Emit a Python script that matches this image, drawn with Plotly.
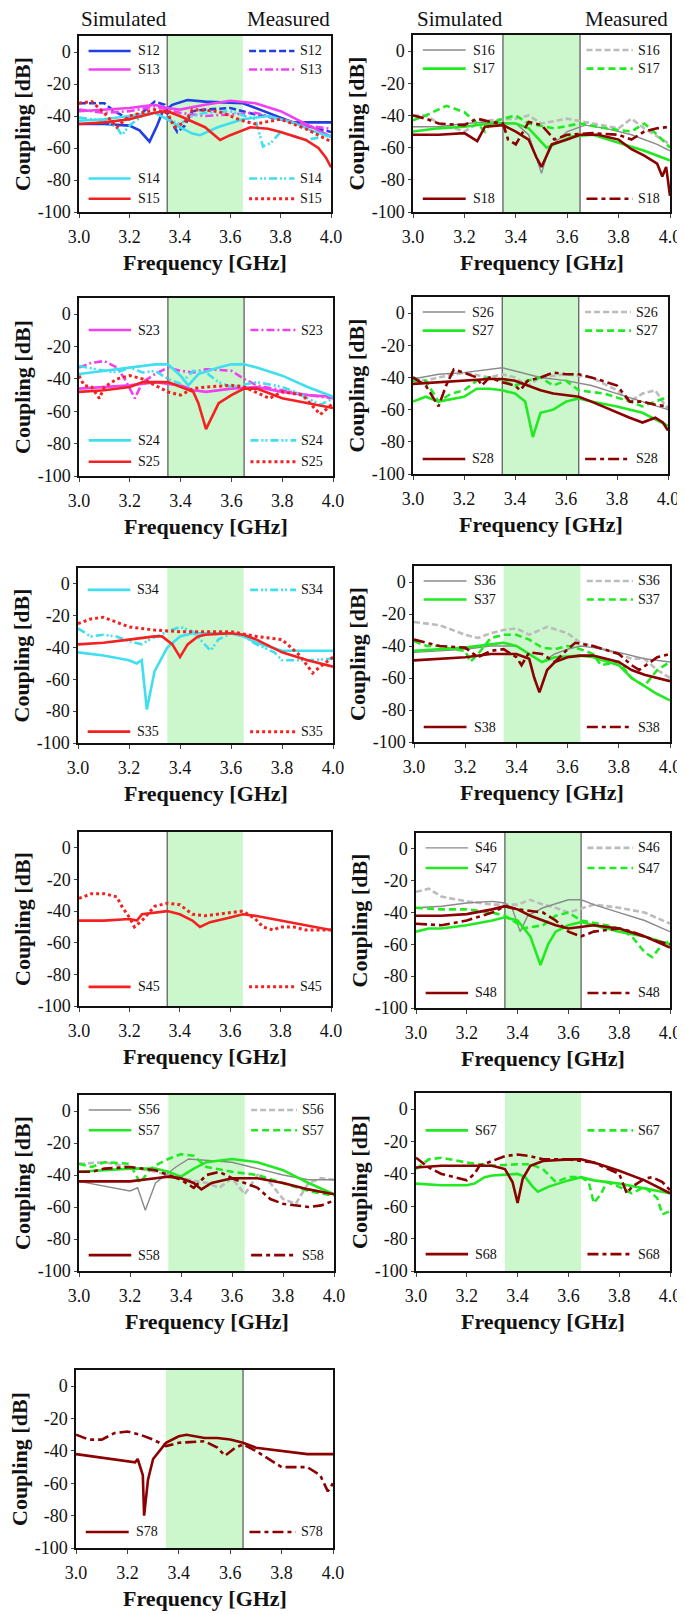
import plotly.graph_objects as go

# coupling curves: (frequency GHz, coupling dB)
S12_SIM = [(3.0,-45),(3.1,-45),(3.2,-46),(3.24,-49),(3.28,-56),(3.31,-46),(3.33,-38),(3.37,-33),(3.43,-30),(3.5,-31),(3.65,-32),(3.72,-36),(3.8,-41),(3.85,-44),(4.0,-44)]
S12_MEAS = [(3.0,-32),(3.1,-32),(3.14,-37),(3.2,-42),(3.25,-38),(3.3,-31),(3.34,-33),(3.36,-42),(3.39,-50),(3.42,-46),(3.45,-37),(3.5,-36),(3.6,-35),(3.7,-39),(3.8,-42),(3.9,-46),(4.0,-50)]
S13_SIM = [(3.0,-37),(3.1,-36),(3.2,-35),(3.3,-33),(3.35,-35),(3.4,-36),(3.5,-33),(3.6,-30.5),(3.7,-32),(3.8,-37),(3.9,-45),(4.0,-53)]
S13_MEAS = [(3.0,-36),(3.1,-38),(3.2,-37),(3.3,-34),(3.4,-38),(3.5,-40),(3.6,-39),(3.7,-38),(3.8,-42),(3.9,-46),(4.0,-48)]
S14_SIM = [(3.0,-43),(3.1,-42),(3.2,-40),(3.3,-38),(3.35,-42),(3.4,-47),(3.45,-51),(3.48,-52),(3.55,-47),(3.65,-42),(3.75,-40),(3.85,-44),(3.92,-49),(4.0,-53)]
S14_MEAS = [(3.0,-41),(3.1,-43),(3.15,-47),(3.17,-52),(3.2,-46),(3.25,-40),(3.3,-38),(3.35,-42),(3.4,-45),(3.45,-40),(3.5,-38),(3.6,-37),(3.7,-42),(3.73,-59),(3.76,-57),(3.8,-50),(3.9,-55),(4.0,-52)]
S15_SIM = [(3.0,-45),(3.1,-44),(3.2,-42),(3.3,-38),(3.35,-37),(3.4,-40),(3.5,-47),(3.56,-55),(3.6,-52),(3.68,-47),(3.75,-48),(3.8,-50),(3.9,-55),(3.95,-60),(3.98,-66),(4.0,-72)]
S15_MEAS = [(3.0,-32),(3.05,-31),(3.1,-38),(3.15,-47),(3.2,-40),(3.3,-36),(3.35,-38),(3.38,-47),(3.42,-44),(3.45,-36),(3.55,-37),(3.65,-43),(3.7,-45),(3.8,-42),(3.9,-48),(4.0,-56)]

S16_SIM = [(3.0,-47),(3.1,-47),(3.2,-45),(3.3,-44),(3.4,-45),(3.45,-52),(3.5,-76),(3.53,-60),(3.6,-50),(3.67,-46),(3.75,-48),(3.85,-52),(3.95,-58),(4.0,-62)]
S16_MEAS = [(3.0,-40),(3.05,-40),(3.1,-45),(3.2,-50),(3.25,-45),(3.3,-43),(3.4,-42),(3.45,-40),(3.5,-45),(3.6,-42),(3.7,-45),(3.8,-48),(3.85,-42),(3.9,-48),(4.0,-58)]
S17_SIM = [(3.0,-50),(3.1,-48),(3.2,-47),(3.3,-45),(3.4,-45),(3.45,-48),(3.52,-60),(3.56,-57),(3.62,-53),(3.7,-52),(3.8,-57),(3.9,-62),(4.0,-68)]
S17_MEAS = [(3.0,-43),(3.05,-40),(3.13,-34),(3.2,-38),(3.25,-45),(3.28,-50),(3.3,-45),(3.35,-42),(3.4,-40),(3.45,-45),(3.55,-48),(3.65,-45),(3.75,-48),(3.85,-50),(3.9,-45),(3.95,-52),(4.0,-60)]
S18_SIM = [(3.0,-52),(3.1,-52),(3.2,-51),(3.25,-56),(3.28,-47),(3.35,-46),(3.4,-50),(3.45,-55),(3.48,-66),(3.5,-72),(3.54,-58),(3.6,-55),(3.65,-52),(3.72,-52),(3.8,-55),(3.85,-61),(3.9,-65),(3.95,-70),(3.97,-78),(3.985,-72),(4.0,-90)]
S18_MEAS = [(3.0,-40),(3.05,-42),(3.1,-45),(3.2,-46),(3.25,-42),(3.3,-44),(3.35,-45),(3.37,-55),(3.4,-58),(3.45,-44),(3.5,-46),(3.55,-55),(3.6,-52),(3.7,-51),(3.8,-52),(3.85,-55),(3.9,-50),(3.95,-48),(4.0,-47)]

S23_SIM = [(3.0,-46),(3.1,-45),(3.2,-44),(3.3,-42),(3.4,-44),(3.45,-47),(3.5,-48),(3.6,-46),(3.7,-45),(3.8,-48),(3.9,-50),(4.0,-51)]
S23_MEAS = [(3.0,-33),(3.05,-30),(3.1,-29),(3.15,-33),(3.18,-40),(3.22,-52),(3.25,-42),(3.3,-37),(3.35,-33),(3.4,-35),(3.45,-36),(3.5,-34),(3.6,-35),(3.65,-40),(3.7,-44),(3.8,-47),(3.9,-50),(4.0,-52)]
S24_SIM = [(3.0,-37),(3.1,-35),(3.2,-33),(3.3,-31),(3.35,-31),(3.4,-38),(3.43,-44),(3.47,-37),(3.55,-33),(3.6,-31),(3.65,-31),(3.7,-33),(3.8,-38),(3.9,-45),(4.0,-51)]
S24_MEAS = [(3.0,-32),(3.1,-35),(3.15,-36),(3.2,-33),(3.25,-36),(3.3,-35),(3.35,-40),(3.4,-43),(3.45,-35),(3.5,-36),(3.55,-42),(3.6,-45),(3.7,-42),(3.8,-45),(3.85,-48),(3.9,-52),(3.95,-56),(4.0,-52)]
S25_SIM = [(3.0,-48),(3.1,-47),(3.2,-45),(3.25,-42),(3.35,-42),(3.4,-45),(3.45,-48),(3.47,-55),(3.5,-71),(3.55,-55),(3.6,-50),(3.65,-46),(3.7,-46),(3.8,-52),(3.9,-55),(4.0,-58)]
S25_MEAS = [(3.0,-38),(3.02,-44),(3.05,-45),(3.08,-52),(3.1,-45),(3.15,-40),(3.2,-38),(3.25,-40),(3.3,-44),(3.35,-48),(3.4,-50),(3.45,-46),(3.5,-45),(3.6,-44),(3.65,-45),(3.75,-52),(3.8,-48),(3.88,-50),(3.95,-62),(4.0,-55)]

S26_SIM = [(3.0,-41),(3.1,-38),(3.2,-37),(3.3,-35),(3.35,-34),(3.4,-36),(3.5,-40),(3.6,-42),(3.7,-45),(3.8,-50),(3.9,-55),(4.0,-60)]
S26_MEAS = [(3.0,-40),(3.05,-42),(3.1,-40),(3.2,-37),(3.3,-40),(3.35,-38),(3.4,-40),(3.45,-45),(3.5,-40),(3.6,-38),(3.7,-40),(3.8,-48),(3.85,-55),(3.9,-50),(3.95,-48),(4.0,-60)]
S27_SIM = [(3.0,-55),(3.05,-52),(3.1,-55),(3.2,-52),(3.25,-47),(3.3,-47),(3.35,-48),(3.4,-50),(3.44,-55),(3.47,-77),(3.5,-62),(3.55,-60),(3.6,-55),(3.65,-53),(3.7,-55),(3.8,-58),(3.9,-62),(4.0,-70)]
S27_MEAS = [(3.0,-42),(3.05,-42),(3.1,-55),(3.15,-50),(3.2,-48),(3.25,-42),(3.3,-40),(3.35,-42),(3.4,-45),(3.45,-42),(3.5,-40),(3.55,-45),(3.6,-42),(3.65,-48),(3.75,-50),(3.85,-55),(3.9,-58),(4.0,-52)]
S28_SIM = [(3.0,-44),(3.1,-43),(3.2,-42),(3.3,-41),(3.35,-41),(3.4,-42),(3.45,-45),(3.5,-48),(3.55,-50),(3.65,-52),(3.7,-55),(3.8,-62),(3.85,-65),(3.9,-68),(3.95,-65),(3.98,-68),(4.0,-73)]
S28_MEAS = [(3.0,-40),(3.05,-45),(3.1,-58),(3.13,-45),(3.16,-35),(3.2,-37),(3.25,-40),(3.27,-45),(3.3,-40),(3.35,-43),(3.4,-45),(3.42,-48),(3.45,-42),(3.5,-40),(3.55,-37),(3.6,-38),(3.65,-38),(3.7,-40),(3.8,-45),(3.85,-55),(3.9,-55),(3.95,-57),(4.0,-58)]

S34_SIM = [(3.0,-43),(3.1,-45),(3.2,-48),(3.23,-50),(3.25,-48),(3.27,-79),(3.3,-55),(3.35,-40),(3.4,-33),(3.45,-31),(3.5,-31),(3.6,-31),(3.65,-33),(3.7,-37),(3.8,-42),(3.9,-42),(4.0,-42)]
S34_MEAS = [(3.0,-28),(3.05,-33),(3.1,-32),(3.15,-33),(3.2,-36),(3.25,-38),(3.28,-35),(3.35,-30),(3.4,-27),(3.45,-30),(3.48,-35),(3.52,-42),(3.55,-35),(3.6,-31),(3.65,-33),(3.7,-38),(3.77,-43),(3.8,-48),(3.85,-48),(3.9,-48),(4.0,-47)]
S35_SIM = [(3.0,-38),(3.1,-37),(3.2,-35),(3.3,-33),(3.33,-33),(3.37,-38),(3.4,-46),(3.43,-38),(3.47,-33),(3.5,-32),(3.6,-31),(3.65,-32),(3.7,-35),(3.8,-43),(3.9,-48),(4.0,-52)]
S35_MEAS = [(3.0,-25),(3.05,-22),(3.1,-21),(3.15,-24),(3.2,-27),(3.3,-29),(3.4,-30),(3.5,-30),(3.6,-30),(3.7,-33),(3.8,-35),(3.87,-45),(3.92,-56),(3.95,-52),(4.0,-46)]

S36_SIM = [(3.0,-44),(3.1,-43),(3.2,-42),(3.3,-40),(3.4,-40),(3.45,-45),(3.5,-50),(3.55,-45),(3.6,-42),(3.65,-40),(3.7,-41),(3.8,-44),(3.9,-48),(4.0,-50)]
S36_MEAS = [(3.0,-25),(3.1,-27),(3.2,-33),(3.25,-35),(3.3,-32),(3.35,-30),(3.4,-29),(3.45,-33),(3.52,-28),(3.6,-32),(3.65,-38),(3.7,-40),(3.8,-45),(3.85,-48),(3.9,-48),(3.95,-55),(4.0,-60)]
S37_SIM = [(3.0,-43),(3.1,-42),(3.2,-41),(3.3,-39),(3.35,-38),(3.4,-40),(3.45,-45),(3.5,-50),(3.55,-47),(3.65,-46),(3.7,-47),(3.8,-52),(3.85,-60),(3.9,-65),(3.95,-70),(4.0,-74)]
S37_MEAS = [(3.0,-37),(3.05,-40),(3.1,-40),(3.15,-42),(3.2,-43),(3.22,-50),(3.25,-45),(3.3,-35),(3.35,-33),(3.4,-33),(3.45,-36),(3.5,-41),(3.55,-42),(3.6,-40),(3.65,-42),(3.7,-45),(3.73,-52),(3.8,-50),(3.85,-60),(3.9,-65),(3.95,-55),(4.0,-50)]
S38_SIM = [(3.0,-49),(3.1,-48),(3.2,-47),(3.3,-45),(3.4,-45),(3.45,-48),(3.47,-60),(3.49,-69),(3.52,-55),(3.55,-50),(3.6,-47),(3.65,-46),(3.7,-46),(3.8,-50),(3.85,-55),(3.9,-58),(3.95,-60),(4.0,-62)]
S38_MEAS = [(3.0,-36),(3.05,-38),(3.1,-40),(3.2,-41),(3.25,-47),(3.3,-43),(3.35,-42),(3.4,-47),(3.42,-52),(3.45,-44),(3.5,-45),(3.55,-50),(3.6,-42),(3.63,-38),(3.7,-40),(3.8,-45),(3.85,-52),(3.88,-55),(3.95,-47),(4.0,-45)]

S45_SIM = [(3.0,-46),(3.1,-46),(3.2,-45),(3.23,-46),(3.25,-42),(3.3,-41),(3.35,-40),(3.4,-42),(3.45,-46),(3.48,-50),(3.52,-47),(3.6,-44),(3.65,-42),(3.7,-43),(3.8,-46),(3.9,-49),(4.0,-52)]
S45_MEAS = [(3.0,-32),(3.05,-29),(3.1,-29),(3.15,-31),(3.17,-37),(3.2,-44),(3.22,-50),(3.25,-46),(3.3,-37),(3.35,-35),(3.4,-36),(3.45,-42),(3.5,-43),(3.6,-41),(3.65,-40),(3.7,-45),(3.73,-50),(3.77,-52),(3.8,-50),(3.85,-50),(3.9,-52),(4.0,-52)]

S46_SIM = [(3.0,-37),(3.1,-36),(3.2,-34),(3.3,-33),(3.35,-34),(3.38,-38),(3.41,-52),(3.44,-42),(3.5,-37),(3.6,-32),(3.65,-32),(3.7,-35),(3.8,-40),(3.9,-45),(4.0,-52)]
S46_MEAS = [(3.0,-27),(3.05,-25),(3.1,-30),(3.2,-33),(3.3,-35),(3.4,-35),(3.45,-32),(3.5,-35),(3.55,-37),(3.6,-40),(3.7,-35),(3.8,-37),(3.9,-40),(4.0,-47)]
S47_SIM = [(3.0,-52),(3.05,-50),(3.1,-50),(3.2,-48),(3.3,-45),(3.35,-43),(3.4,-45),(3.45,-55),(3.49,-73),(3.52,-60),(3.55,-52),(3.6,-48),(3.65,-46),(3.7,-48),(3.8,-52),(3.9,-55),(4.0,-60)]
S47_MEAS = [(3.0,-37),(3.1,-38),(3.2,-38),(3.3,-40),(3.35,-42),(3.4,-47),(3.42,-50),(3.5,-48),(3.55,-42),(3.6,-40),(3.65,-45),(3.75,-48),(3.8,-50),(3.85,-55),(3.9,-65),(3.93,-68),(3.97,-60),(4.0,-58)]
S48_SIM = [(3.0,-42),(3.1,-42),(3.2,-41),(3.3,-38),(3.35,-36),(3.4,-38),(3.45,-42),(3.5,-45),(3.55,-48),(3.6,-50),(3.7,-48),(3.8,-50),(3.9,-55),(4.0,-62)]
S48_MEAS = [(3.0,-47),(3.1,-48),(3.2,-45),(3.3,-40),(3.35,-36),(3.4,-38),(3.5,-40),(3.55,-45),(3.6,-52),(3.65,-55),(3.7,-52),(3.8,-50),(3.85,-52),(3.9,-55),(3.95,-58),(4.0,-60)]

S56_SIM = [(3.0,-44),(3.1,-47),(3.2,-50),(3.23,-48),(3.26,-62),(3.3,-45),(3.38,-35),(3.43,-30),(3.5,-31),(3.6,-32),(3.7,-36),(3.8,-40),(3.9,-43),(4.0,-43)]
S56_MEAS = [(3.0,-33),(3.1,-32),(3.2,-35),(3.3,-38),(3.35,-40),(3.4,-42),(3.5,-45),(3.55,-48),(3.6,-42),(3.65,-52),(3.7,-40),(3.75,-45),(3.8,-55),(3.85,-58),(3.9,-45),(3.95,-42),(4.0,-43)]
S57_SIM = [(3.0,-38),(3.1,-37),(3.2,-36),(3.3,-36),(3.35,-38),(3.4,-41),(3.45,-36),(3.5,-32),(3.6,-30),(3.7,-32),(3.8,-37),(3.9,-45),(4.0,-52)]
S57_MEAS = [(3.0,-33),(3.05,-35),(3.1,-32),(3.2,-33),(3.24,-45),(3.28,-36),(3.3,-34),(3.35,-30),(3.4,-27),(3.45,-28),(3.5,-35),(3.6,-38),(3.7,-40),(3.8,-45),(3.9,-50),(4.0,-53)]
S58_SIM = [(3.0,-44),(3.1,-44),(3.2,-44),(3.3,-42),(3.35,-41),(3.4,-42),(3.45,-45),(3.48,-49),(3.52,-45),(3.6,-42),(3.7,-42),(3.8,-45),(3.9,-49),(4.0,-52)]
S58_MEAS = [(3.0,-38),(3.05,-38),(3.1,-36),(3.2,-35),(3.3,-37),(3.35,-40),(3.4,-43),(3.45,-48),(3.5,-40),(3.55,-38),(3.6,-42),(3.65,-45),(3.7,-48),(3.75,-55),(3.8,-58),(3.9,-60),(3.95,-59),(4.0,-56)]

S67_SIM = [(3.0,-46),(3.1,-47),(3.2,-47),(3.23,-46),(3.27,-42),(3.3,-41),(3.4,-40),(3.43,-42),(3.46,-48),(3.48,-51),(3.52,-48),(3.6,-44),(3.65,-42),(3.7,-44),(3.8,-46),(3.9,-49),(4.0,-52)]
S67_MEAS = [(3.0,-37),(3.05,-31),(3.1,-30),(3.2,-33),(3.3,-35),(3.4,-34),(3.45,-34),(3.5,-37),(3.55,-45),(3.6,-42),(3.65,-42),(3.68,-45),(3.7,-58),(3.73,-52),(3.75,-45),(3.8,-48),(3.85,-52),(3.9,-48),(3.95,-55),(3.97,-65),(4.0,-63)]
S68_SIM = [(3.0,-36),(3.1,-35),(3.2,-35),(3.3,-35),(3.35,-37),(3.38,-45),(3.4,-58),(3.42,-43),(3.45,-35),(3.5,-32),(3.6,-31),(3.65,-31),(3.7,-33),(3.8,-38),(3.9,-44),(4.0,-52)]
S68_MEAS = [(3.0,-30),(3.05,-36),(3.1,-40),(3.2,-44),(3.23,-40),(3.25,-35),(3.3,-32),(3.35,-29),(3.4,-28),(3.45,-29),(3.5,-31),(3.6,-31),(3.7,-33),(3.8,-40),(3.83,-52),(3.85,-48),(3.9,-43),(3.93,-42),(3.97,-45),(4.0,-50)]

S78_SIM = [(3.0,-42),(3.1,-44),(3.2,-46),(3.23,-47),(3.24,-45),(3.26,-55),(3.265,-80),(3.28,-58),(3.3,-45),(3.35,-35),(3.4,-31),(3.43,-30),(3.5,-32),(3.55,-32),(3.6,-33),(3.65,-35),(3.7,-38),(3.8,-40),(3.9,-42),(4.0,-42)]
S78_MEAS = [(3.0,-30),(3.05,-33),(3.1,-33),(3.15,-29),(3.2,-28),(3.25,-30),(3.3,-33),(3.35,-37),(3.4,-35),(3.5,-34),(3.55,-38),(3.58,-43),(3.62,-38),(3.65,-36),(3.7,-40),(3.75,-45),(3.8,-50),(3.85,-50),(3.9,-50),(3.95,-55),(3.98,-65),(4.0,-60)]

X_TICKS = [3.0, 3.2, 3.4, 3.6, 3.8, 4.0]
X_LABELS = ["3.0", "3.2", "3.4", "3.6", "3.8", "4.0"]
Y_TICKS = [-100, -80, -60, -40, -20, 0]
Y_LABELS = ["-100", "-80", "-60", "-40", "-20", "0"]
BAND = (3.35, 3.65)

# colour / line style keyed on the second port number
SIM_COLOR = {"2": "#1f3fe0", "3": "#f040f0", "4": "#3fdff0", "5": "#f52020",
             "6": "#8a8a8a", "7": "#22ea22", "8": "#8b0000"}
MEAS_COLOR = dict(SIM_COLOR, **{"6": "#bcbcbc"})
MEAS_DASH = {"2": "7px,3px", "3": "8px,3px,2px,3px", "4": "8px,3px,2px,2px,2px,3px",
             "5": "3px,3px", "6": "6px,3px", "7": "7px,4px", "8": "11px,4px,4px,4px"}

# panel boxes in page pixels (left, right, top, bottom), band edge lines, legend rows
panels = [
    dict(box=(79, 331, 36, 212), edges=(True, False),
         series=[("S12", S12_SIM, S12_MEAS, 0.915), ("S13", S13_SIM, S13_MEAS, 0.81),
                 ("S14", S14_SIM, S14_MEAS, 0.19), ("S15", S15_SIM, S15_MEAS, 0.075)]),
    dict(box=(413, 670, 35, 212), edges=(True, True),
         series=[("S16", S16_SIM, S16_MEAS, 0.915), ("S17", S17_SIM, S17_MEAS, 0.81),
                 ("S18", S18_SIM, S18_MEAS, 0.075)]),
    dict(box=(79, 333, 298, 476), edges=(True, True),
         series=[("S23", S23_SIM, S23_MEAS, 0.82), ("S24", S24_SIM, S24_MEAS, 0.2),
                 ("S25", S25_SIM, S25_MEAS, 0.08)]),
    dict(box=(413, 668, 297, 474), edges=(True, True),
         series=[("S26", S26_SIM, S26_MEAS, 0.915), ("S27", S27_SIM, S27_MEAS, 0.81),
                 ("S28", S28_SIM, S28_MEAS, 0.085)]),
    dict(box=(78, 333, 568, 743), edges=(False, False),
         series=[("S34", S34_SIM, S34_MEAS, 0.875), ("S35", S35_SIM, S35_MEAS, 0.065)]),
    dict(box=(414, 670, 566, 742), edges=(False, False),
         series=[("S36", S36_SIM, S36_MEAS, 0.915), ("S37", S37_SIM, S37_MEAS, 0.81),
                 ("S38", S38_SIM, S38_MEAS, 0.085)]),
    dict(box=(79, 331, 832, 1006), edges=(True, False),
         series=[("S45", S45_SIM, S45_MEAS, 0.11)]),
    dict(box=(416, 670, 833, 1008), edges=(True, True),
         series=[("S46", S46_SIM, S46_MEAS, 0.915), ("S47", S47_SIM, S47_MEAS, 0.8),
                 ("S48", S48_SIM, S48_MEAS, 0.086)]),
    dict(box=(79, 334, 1095, 1271), edges=(False, False),
         series=[("S56", S56_SIM, S56_MEAS, 0.915), ("S57", S57_SIM, S57_MEAS, 0.8),
                 ("S58", S58_SIM, S58_MEAS, 0.09)]),
    dict(box=(416, 670, 1093, 1271), edges=(False, False),
         series=[("S67", S67_SIM, S67_MEAS, 0.79), ("S68", S68_SIM, S68_MEAS, 0.095)]),
    dict(box=(76, 333, 1370, 1548), edges=(False, True),
         series=[("S78", S78_SIM, S78_MEAS, 0.09)]),
]

# page size; the html body keeps its default 8px margin, so the figure is shifted by that
PAGE_W, PAGE_H = 685, 1614
OFF = 8
W, H = PAGE_W - OFF, PAGE_H - OFF
SERIF = "Liberation Serif, Times New Roman, serif"


def fx(px):
    return (px - OFF) / W


def fy(py):
    return 1 - (py - OFF) / H


fig = go.Figure()
shapes, annotations = [], []
layout = {}

for i, p in enumerate(panels, start=1):
    sfx = "" if i == 1 else str(i)
    xa, ya = "x" + sfx, "y" + sfx
    left, right, top, bottom = p["box"]
    layout["xaxis" + sfx] = dict(
        domain=[fx(left), fx(right)], anchor=ya, range=[3.0, 4.0], automargin=False,
        tickvals=X_TICKS, ticktext=X_LABELS, ticks="outside", ticklen=4,
        ticklabelstandoff=4, showgrid=False, zeroline=False,
        showline=True, mirror=True, linecolor="#111", linewidth=1.5,
        tickfont=dict(family=SERIF, size=18, color="#111"))
    layout["yaxis" + sfx] = dict(
        domain=[fy(bottom), fy(top)], anchor=xa, range=[-100, 10], automargin=False,
        tickvals=Y_TICKS, ticktext=Y_LABELS, ticks="outside", ticklen=3,
        showgrid=False, zeroline=False,
        showline=True, mirror=True, linecolor="#111", linewidth=1.5,
        tickfont=dict(family=SERIF, size=18, color="#111"))

    # operating band
    shapes.append(dict(type="rect", xref=xa, yref=ya + " domain", x0=BAND[0], x1=BAND[1],
                       y0=0, y1=1, fillcolor="#ccf7cc", line=dict(width=0), layer="below"))
    for edge, on in zip(BAND, p["edges"]):
        if on:
            shapes.append(dict(type="line", xref=xa, yref=ya + " domain", x0=edge, x1=edge,
                               y0=0, y1=1, line=dict(color="#555", width=1.2), layer="below"))

    for name, sim, meas, ly in p["series"]:
        k = name[-1]
        sim_line = dict(color=SIM_COLOR[k], width=1.4 if k == "6" else 2.6)
        meas_line = dict(color=MEAS_COLOR[k], width=3 if k == "5" else 2.6, dash=MEAS_DASH[k])
        fig.add_trace(go.Scatter(x=[f for f, _ in meas], y=[d for _, d in meas], mode="lines",
                                 line=meas_line, xaxis=xa, yaxis=ya, showlegend=False))
        fig.add_trace(go.Scatter(x=[f for f, _ in sim], y=[d for _, d in sim], mode="lines",
                                 line=sim_line, xaxis=xa, yaxis=ya, showlegend=False))
        # in-plot legend entries
        shapes.append(dict(type="line", xref=xa + " domain", yref=ya + " domain",
                           x0=0.038, x1=0.205, y0=ly, y1=ly, line=sim_line))
        shapes.append(dict(type="line", xref=xa + " domain", yref=ya + " domain",
                           x0=0.675, x1=0.855, y0=ly, y1=ly, line=meas_line))
        for lx in (0.225, 0.868):
            annotations.append(dict(text=name, xref=xa + " domain", yref=ya + " domain",
                                    x=lx, y=ly, xanchor="left", yanchor="middle", showarrow=False,
                                    font=dict(family=SERIF, size=14, color="#111")))

    annotations.append(dict(text="<b>Frequency [GHz]</b>", xref=xa + " domain", yref=ya + " domain",
                            x=0.5, y=0, yshift=-50, xanchor="center", yanchor="middle",
                            showarrow=False, font=dict(family=SERIF, size=22, color="#111")))
    annotations.append(dict(text="<b>Coupling [dB]</b>", xref=xa + " domain", yref=ya + " domain",
                            x=0, y=0.5, xshift=-57, textangle=-90, xanchor="center",
                            yanchor="middle", showarrow=False,
                            font=dict(family=SERIF, size=22, color="#111")))

for txt, cx in (("Simulated", 124), ("Measured", 288), ("Simulated", 460), ("Measured", 626)):
    annotations.append(dict(text=txt, xref="paper", yref="paper", x=fx(cx), y=1, yshift=3,
                            xanchor="center", yanchor="top", showarrow=False,
                            font=dict(family=SERIF, size=21, color="#111")))

fig.update_layout(template="none", width=W, height=H, margin=dict(l=0, r=0, t=0, b=0, pad=0),
                  paper_bgcolor="white", plot_bgcolor="white",
                  shapes=shapes, annotations=annotations, **layout)

fig.write_html("out.html")
